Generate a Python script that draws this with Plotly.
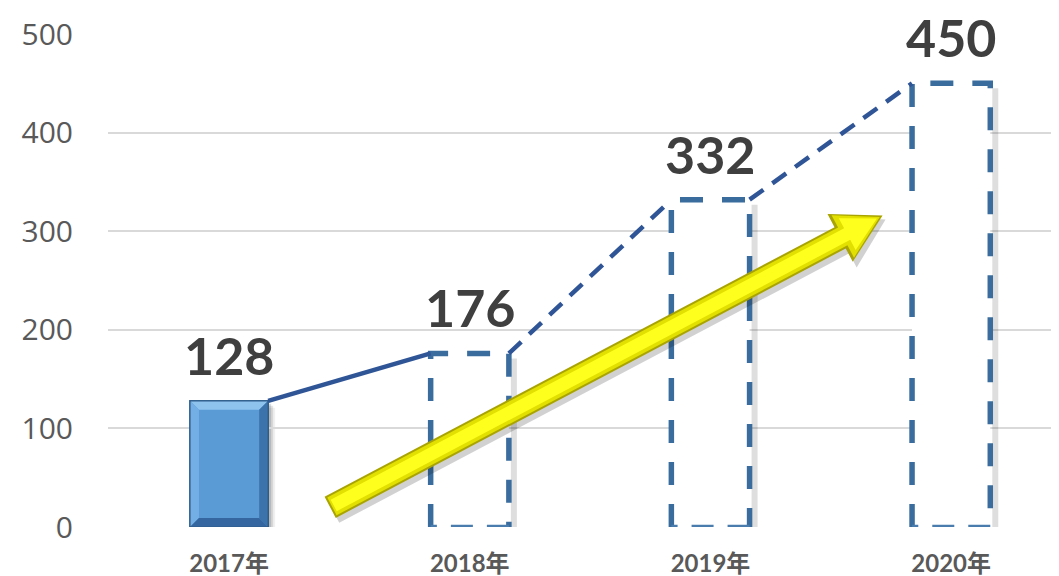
import math
import plotly.graph_objects as go

# ---------------- data ----------------
categories = ["2017年", "2018年", "2019年", "2020年"]
values = [128, 176, 332, 450]
actual_count = 1          # first bar is actual (solid), the rest are projected (dashed)
y_ticks = [0, 100, 200, 300, 400, 500]

# ---------------- layout constants ----------------
PAGE_OFF = 8              # default body margin of the html page
W, H = 1059 - PAGE_OFF, 576 - PAGE_OFF
ML, MR, MT, MB = 108 - PAGE_OFF, 0, 34 - PAGE_OFF, 49
X_RANGE = [-0.503, 3.448]
Y_RANGE = [0, 500]
BAR_W = 0.325
PW, PH = W - ML - MR, H - MT - MB


def dx(p):
    return p / PW * (X_RANGE[1] - X_RANGE[0])


def dy(p):
    return p / PH * (Y_RANGE[1] - Y_RANGE[0])


def to_px(x, y):
    return (ML + (x - X_RANGE[0]) / (X_RANGE[1] - X_RANGE[0]) * PW,
            H - MB - (y - Y_RANGE[0]) / (Y_RANGE[1] - Y_RANGE[0]) * PH)


def to_data(px, py):
    return (X_RANGE[0] + (px - ML) / PW * (X_RANGE[1] - X_RANGE[0]),
            Y_RANGE[0] + (H - MB - py) / PH * (Y_RANGE[1] - Y_RANGE[0]))


def path(points):
    return "M " + " L ".join(f"{x},{y}" for x, y in points) + " Z"


fig = go.Figure()
shapes = []
hw = BAR_W / 2

# ---------------- actual bar (solid, bevelled) ----------------
act_x = list(range(actual_count))
act_y = values[:actual_count]
for i, v in zip(act_x, act_y):
    x0, x1 = i - hw, i + hw
    for k, a in [(7, 0.06), (5, 0.10), (3, 0.14)]:
        shapes.append(dict(type="rect", xref="x", yref="y", layer="below",
                           x0=x0 + dx(k), x1=x1 + dx(k), y0=0 - dy(k) * 0.3, y1=v - dy(k),
                           fillcolor=f"rgba(0,0,0,{a})", line=dict(width=0)))

fig.add_trace(go.Bar(x=act_x, y=act_y, width=BAR_W,
                     marker=dict(color="#5B9BD5", line=dict(color="#2F5F8F", width=1.5)),
                     hoverinfo="skip", showlegend=False))

for i, v in zip(act_x, act_y):
    x0, x1 = i - hw, i + hw
    bx, by = dx(9), dy(9)
    shapes += [
        dict(type="path", xref="x", yref="y", layer="above",
             path=path([(x0, v), (x1, v), (x1 - bx, v - by), (x0 + bx, v - by)]),
             fillcolor="#8EC3EE", line=dict(width=0)),
        dict(type="path", xref="x", yref="y", layer="above",
             path=path([(x0, 0), (x0, v), (x0 + bx, v - by), (x0 + bx, by)]),
             fillcolor="#73AEE4", line=dict(width=0)),
        dict(type="path", xref="x", yref="y", layer="above",
             path=path([(x1, 0), (x1, v), (x1 - bx, v - by), (x1 - bx, by)]),
             fillcolor="#3C73AA", line=dict(width=0)),
        dict(type="path", xref="x", yref="y", layer="above",
             path=path([(x0, 0), (x1, 0), (x1 - bx, by), (x0 + bx, by)]),
             fillcolor="#3566A0", line=dict(width=0)),
        dict(type="rect", xref="x", yref="y", layer="above",
             x0=x0, x1=x1, y0=0, y1=v, fillcolor="rgba(0,0,0,0)",
             line=dict(color="#2E5B88", width=1.2)),
    ]

# ---------------- projected bars (dashed outlines) ----------------
for i in range(actual_count, len(values)):
    v = values[i]
    x0, x1 = i - hw, i + hw
    fig.add_trace(go.Scatter(x=[x1 + dx(5), x1 + dx(5), x0 + dx(4)],
                             y=[v - dy(5), -dy(3), -dy(3)],
                             mode="lines", line=dict(color="rgba(0,0,0,0.13)", width=6),
                             hoverinfo="skip", showlegend=False))
    fig.add_trace(go.Scatter(x=[x0, x0, x1, x1, x0], y=[0, v, v, 0, 0],
                             mode="lines", fill="toself", fillcolor="white",
                             line=dict(width=0), hoverinfo="skip", showlegend=False))
    fig.add_trace(go.Scatter(x=[x0, x0, x1, x1], y=[0, v, v, 0],
                             mode="lines",
                             line=dict(color="#3A6D9E", width=5.5, dash="23px,19px"),
                             hoverinfo="skip", showlegend=False))
    fig.add_trace(go.Scatter(x=[x1, x0], y=[dy(1), dy(1)], mode="lines",
                             line=dict(color="#4A7CAE", width=2.5, dash="22px,14px"),
                             hoverinfo="skip", showlegend=False))

# ---------------- connecting lines ----------------
fig.add_trace(go.Scatter(x=[0 + hw, 1 - hw], y=[values[0], values[1]], mode="lines",
                         line=dict(color="#2F5597", width=4.5),
                         hoverinfo="skip", showlegend=False))
dash_x, dash_y = [], []
for i in range(1, len(values) - 1):
    dash_x += [i + hw, i + 1 - hw, None]
    dash_y += [values[i], values[i + 1], None]
fig.add_trace(go.Scatter(x=dash_x, y=dash_y, mode="lines",
                         line=dict(color="#2F5597", width=4.5, dash="17px,11px"),
                         hoverinfo="skip", showlegend=False))

# ---------------- yellow trend arrow (decoration) ----------------
ARROW_TAIL = (0.42, 20)
ARROW_TIP = (2.715, 316)
tx, ty = to_px(*ARROW_TAIL)
hx, hy = to_px(*ARROW_TIP)
L = math.hypot(hx - tx, hy - ty)
ux, uy = (hx - tx) / L, (hy - ty) / L
nx, ny = -uy, ux


def arrow_poly(shaft, head, head_len, shrink=0.0, ox=0.0, oy=0.0):
    bx_, by_ = hx - ux * head_len, hy - uy * head_len
    sx, sy = tx + ux * shrink, ty + uy * shrink
    ex, ey = hx - ux * shrink * 1.6, hy - uy * shrink * 1.6
    pts = [
        (sx + nx * shaft, sy + ny * shaft),
        (bx_ + nx * shaft, by_ + ny * shaft),
        (bx_ + nx * head, by_ + ny * head),
        (ex, ey),
        (bx_ - nx * head, by_ - ny * head),
        (bx_ - nx * shaft, by_ - ny * shaft),
        (sx - nx * shaft, sy - ny * shaft),
    ]
    return path([to_data(px + ox, py + oy) for px, py in pts])


shapes += [
    dict(type="path", xref="x", yref="y", layer="above",
         path=arrow_poly(13, 29, 48, ox=3, oy=4), fillcolor="rgba(0,0,0,0.18)", line=dict(width=0)),
    dict(type="path", xref="x", yref="y", layer="above",
         path=arrow_poly(12, 27, 48), fillcolor="#A9A400", line=dict(width=0)),
    dict(type="path", xref="x", yref="y", layer="above",
         path=arrow_poly(10, 24, 45, shrink=2), fillcolor="#E2E000", line=dict(width=0)),
    dict(type="path", xref="x", yref="y", layer="above",
         path=arrow_poly(6.5, 18, 40, shrink=4), fillcolor="#FFFF1E", line=dict(width=0)),
]

# ---------------- value labels ----------------
annotations = []
for i, v in enumerate(values):
    annotations.append(dict(x=i, y=v, xref="x", yref="y", text=str(v), showarrow=False,
                            yanchor="middle", yshift=46,
                            font=dict(family="Lato, Open Sans, sans-serif", size=52,
                                      color="#3F3F3F", weight="bold")))

fig.update_layout(
    width=W, height=H,
    margin=dict(l=ML, r=MR, t=MT, b=MB),
    paper_bgcolor="white", plot_bgcolor="white",
    showlegend=False,
    shapes=shapes,
    annotations=annotations,
    xaxis=dict(range=X_RANGE, tickvals=list(range(len(categories))), ticktext=categories,
               showgrid=False, zeroline=False, showline=False, ticks="",
               ticklabelstandoff=20,
               tickfont=dict(family="Lato, Noto Sans CJK SC, sans-serif", size=24,
                             color="#595959", weight="bold"),
               fixedrange=True),
    yaxis=dict(range=Y_RANGE, tickvals=y_ticks, showgrid=True, gridcolor="#D9D9D9",
               gridwidth=1.5, zeroline=False, showline=False, ticks="",
               ticklabelstandoff=34,
               tickfont=dict(family="Open Sans, sans-serif", size=30, color="#595959"),
               fixedrange=True),
)

fig.write_html("out.html")
